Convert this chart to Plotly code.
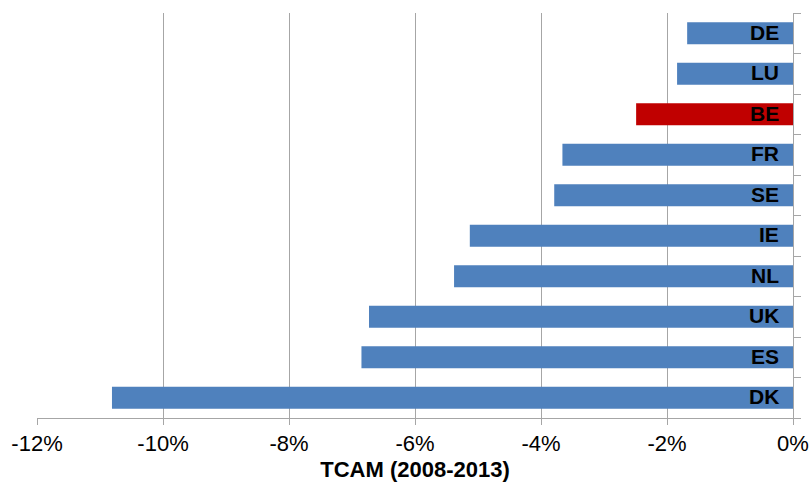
import plotly.graph_objects as go

# Compound annual growth rate (TCAM) 2008-2013, in percent
countries = ["DE", "LU", "BE", "FR", "SE", "IE", "NL", "UK", "ES", "DK"]
tcam = [-1.68, -1.84, -2.49, -3.66, -3.79, -5.13, -5.38, -6.73, -6.85, -10.81]
highlight = "BE"

tick_vals = [-12, -10, -8, -6, -4, -2, 0]
tick_text = ["-12%", "-10%", "-8%", "-6%", "-4%", "-2%", "0%"]

FONT = "Liberation Sans, Arial, sans-serif"
colors = ["#C00000" if c == highlight else "#4F81BD" for c in countries]

fig = go.Figure(
    go.Bar(
        x=tcam,
        y=countries,
        orientation="h",
        marker=dict(color=colors, line=dict(width=0)),
        width=0.54,
        hoverinfo="x+y",
    )
)

# Country codes written inside each bar, right-aligned near the zero line
for c in countries:
    fig.add_annotation(
        x=0, y=c, xref="x", yref="y",
        text=f"<b>{c}</b>",
        showarrow=False,
        xanchor="right", yanchor="middle",
        xshift=-12, yshift=1,
        font=dict(family=FONT, size=21, color="black"),
    )

fig.update_layout(
    width=809,
    height=485,
    margin=dict(l=37, r=16, t=13, b=67),
    plot_bgcolor="white",
    paper_bgcolor="white",
    showlegend=False,
    font=dict(family=FONT, color="black"),
)

fig.update_xaxes(
    range=[-12, 0],
    tickvals=tick_vals,
    ticktext=tick_text,
    tickfont=dict(size=22),
    automargin=False,
    showgrid=True,
    gridcolor="#A6A6A6",
    gridwidth=1,
    showline=True,
    linecolor="#A6A6A6",
    linewidth=1,
    ticks="outside",
    ticklen=6,
    tickcolor="#A6A6A6",
    zeroline=False,
    title=dict(text="<b>TCAM (2008-2013)</b>", font=dict(size=22), standoff=6),
)

fig.update_yaxes(
    categoryorder="array",
    categoryarray=countries[::-1],
    side="right",
    automargin=False,
    showticklabels=False,
    showline=True,
    linecolor="#A6A6A6",
    linewidth=1,
    ticks="outside",
    tickson="boundaries",
    ticklen=7,
    tickcolor="#A6A6A6",
    showgrid=False,
    zeroline=False,
)

fig.write_html("out.html")
